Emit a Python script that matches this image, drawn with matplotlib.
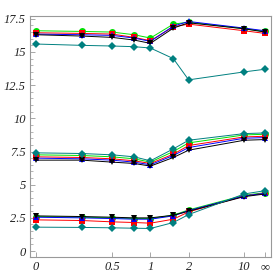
import numpy as np
import matplotlib.pyplot as plt

# x values (last one is infinity), plotted on a x/(1+x) scale
x_vals = [0, 0.25, 0.5, 0.75, 1, 1.5, 2, 10, np.inf]
tick_vals = [0, 0.5, 1, 2, 10, np.inf]
tick_labels = ["0", "0.5", "1", "2", "10", "\u221e"]

# upper group
top_green = [16.6, 16.55, 16.5, 16.3, 16.05, 17.1, 17.25, 16.75, 16.55]
top_red = [16.45, 16.4, 16.35, 16.1, 15.85, 16.9, 17.1, 16.6, 16.4]
top_blue = [16.35, 16.3, 16.25, 16.05, 15.8, 16.95, 17.3, 16.8, 16.6]
top_black = [16.3, 16.2, 16.1, 15.9, 15.65, 16.8, 17.2, 16.75, 16.5]
top_teal = [15.6, 15.5, 15.45, 15.4, 15.3, 14.5, 12.9, 13.5, 13.7]

# middle group
mid_green = [7.25, 7.2, 7.1, 6.95, 6.7, 7.5, 8.15, 8.75, 8.8]
mid_red = [7.1, 7.05, 6.95, 6.8, 6.6, 7.3, 7.95, 8.6, 8.65]
mid_blue = [7.0, 6.95, 6.85, 6.7, 6.5, 7.2, 7.8, 8.5, 8.55]
mid_black = [6.85, 6.85, 6.7, 6.6, 6.4, 7.05, 7.6, 8.35, 8.4]
mid_teal = [7.4, 7.35, 7.25, 7.1, 6.8, 7.7, 8.35, 8.85, 8.9]

# lower group
low_green = [2.6, 2.55, 2.5, 2.45, 2.45, 2.7, 3.1, 4.2, 4.4]
low_red = [2.35, 2.3, 2.2, 2.15, 2.1, 2.4, 2.95, 4.15, 4.35]
low_blue = [2.55, 2.5, 2.45, 2.4, 2.4, 2.65, 3.05, 4.15, 4.35]
low_black = [2.65, 2.6, 2.55, 2.5, 2.5, 2.7, 3.0, 4.1, 4.3]
low_teal = [1.8, 1.78, 1.75, 1.72, 1.7, 2.15, 2.75, 4.3, 4.55]


def squash(v):
    v = np.asarray(v, dtype=float)
    return np.where(np.isinf(v), 1.0, v / (1 + v))


styles = [
    ("#00e000", "o"),
    ("#ff0000", "s"),
    ("#0000ff", "^"),
    ("#000000", "v"),
    ("#008080", "D"),
]
groups = [
    [top_green, top_red, top_blue, top_black, top_teal],
    [mid_green, mid_red, mid_blue, mid_black, mid_teal],
    [low_green, low_red, low_blue, low_black, low_teal],
]

fig = plt.figure(figsize=(2.74, 2.74), dpi=100)
ax = fig.add_axes([0.109, 0.062, 0.88, 0.88])

xs = squash(x_vals)
for grp in groups:
    for ys, (col, mk) in zip(grp, styles):
        ms = 5.0 if mk != "D" else 4.3
        ax.plot(xs, ys, color=col, lw=0.7, marker=mk, ms=ms,
                markeredgewidth=0)

ax.set_xlim(-0.026, 1.026)
ax.set_ylim(-0.45, 17.72)
ax.set_xticks(squash(tick_vals))
ax.set_xticklabels(tick_labels)
ax.set_yticks([0, 2.5, 5, 7.5, 10, 12.5, 15, 17.5])
ax.set_yticklabels(["0", "2.5", "5", "7.5", "10", "12.5", "15", "17.5"])
ax.set_yticks(np.arange(0, 17.6, 0.5), minor=True)

for s in ax.spines.values():
    s.set_color("#999999")
    s.set_linewidth(0.8)
ax.tick_params(direction="in", color="#999999", length=3.5, width=0.6,
               labelsize=9, pad=3)
ax.tick_params(which="minor", direction="in", color="#999999", length=2,
               width=0.5)
ax.tick_params(axis="x", which="minor", length=0)
for lab in ax.get_xticklabels() + ax.get_yticklabels():
    lab.set_family("Liberation Serif")
    lab.set_style("italic")
    lab.set_color("#222222")

fig.savefig("out.png", dpi=100)
